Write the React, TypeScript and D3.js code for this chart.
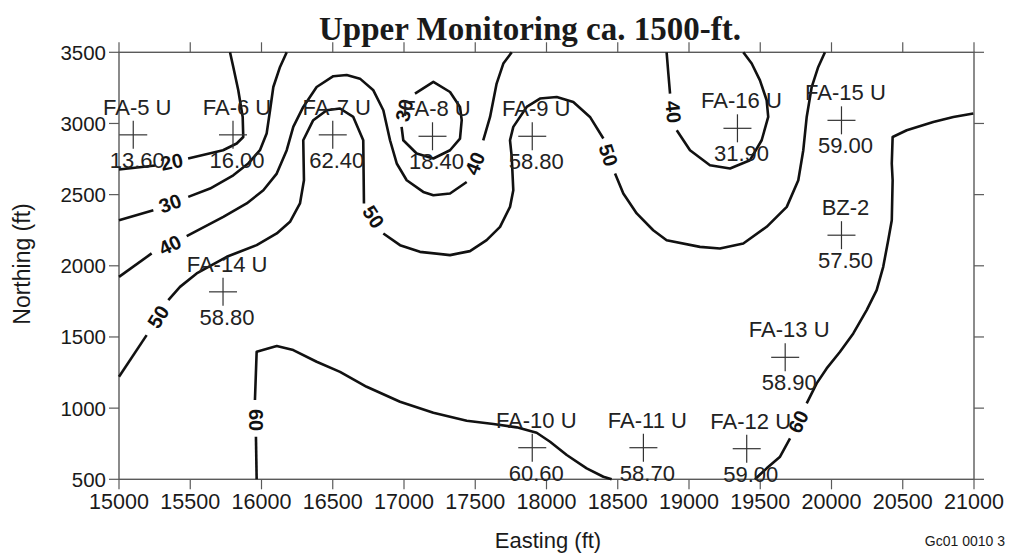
import React from "react";
import * as d3 from "d3";

// well locations (easting, northing) and measured values
const wellNames = ["FA-5 U", "FA-6 U", "FA-7 U", "FA-8 U", "FA-9 U", "FA-16 U", "FA-15 U", "BZ-2", "FA-14 U", "FA-13 U", "FA-12 U", "FA-10 U", "FA-11 U"];
const wellEast = [15100, 15800, 16500, 17200, 17900, 19340, 20070, 20070, 15730, 19675, 19405, 17900, 18680];
const wellNorth = [2920, 2920, 2920, 2910, 2910, 2966, 3022, 2215, 1817, 1357, 715, 722, 722];
const wellValues = ["13.60", "16.00", "62.40", "18.40", "58.80", "31.90", "59.00", "57.50", "58.80", "58.90", "59.00", "60.60", "58.70"];

const xTicks = [15000, 15500, 16000, 16500, 17000, 17500, 18000, 18500, 19000, 19500, 20000, 20500, 21000];
const yTicks = [500, 1000, 1500, 2000, 2500, 3000, 3500];

// contour polylines [easting, northing], split where the labels sit
const contour20: [number, number][][] = [
  [[15000, 2676], [15255, 2705]],
  [[15485, 2754], [15730, 2812], [15826, 2859], [15872, 2905], [15868, 3046], [15837, 3233], [15802, 3397], [15779, 3500]],
];
const contour30: [number, number][][] = [
  [[15000, 2320], [15241, 2391]],
  [[15486, 2484], [15639, 2543], [15802, 2636], [15907, 2719], [15989, 2812], [16036, 2929], [16060, 3093], [16083, 3256], [16130, 3397], [16177, 3500]],
  [[17077, 3210], [17206, 3292], [17323, 3221], [17393, 3116], [17405, 3023], [17393, 2894], [17323, 2812], [17206, 2754], [17089, 2789], [16995, 2882], [16983, 2976]],
];
const contour40: [number, number][][] = [
  [[15000, 1922], [15229, 2087]],
  [[15475, 2208], [15732, 2344], [15896, 2438], [16013, 2531], [16107, 2648], [16177, 2812], [16223, 2976], [16293, 3116], [16387, 3256], [16504, 3332], [16598, 3341], [16691, 3315], [16785, 3233], [16855, 3093], [16902, 2882], [16949, 2719], [17019, 2601], [17135, 2519], [17206, 2496], [17323, 2508], [17440, 2589]],
  [[17556, 2882], [17604, 3046], [17650, 3280], [17697, 3421], [17756, 3500]],
  [[18843, 3500], [18855, 3351], [18867, 3210]],
  [[18914, 2952], [19007, 2812], [19147, 2707], [19288, 2684], [19428, 2742], [19510, 2882], [19556, 3046], [19545, 3163], [19498, 3303], [19440, 3421], [19381, 3500]],
];
const contour50: [number, number][][] = [
  [[15000, 1220], [15194, 1513]],
  [[15346, 1759], [15428, 1852], [15545, 1946], [15756, 2063], [15966, 2145], [16107, 2227], [16200, 2309], [16270, 2438], [16298, 2601], [16293, 2882], [16363, 3023], [16458, 3093], [16551, 3105], [16644, 3046], [16714, 2882], [16719, 2438]],
  [[16855, 2227], [16972, 2145], [17112, 2098], [17323, 2075], [17463, 2103], [17580, 2180], [17674, 2274], [17744, 2414], [17767, 2531], [17756, 2765], [17744, 2882], [17767, 2976], [17861, 3116], [17954, 3175], [18072, 3186], [18188, 3151], [18305, 3046], [18399, 2894]],
  [[18481, 2648], [18539, 2508], [18633, 2368], [18749, 2250], [18843, 2180], [19077, 2133], [19217, 2122], [19381, 2157], [19545, 2274], [19686, 2414], [19767, 2601], [19802, 2812], [19826, 3046], [19861, 3256], [19907, 3397], [19954, 3500]],
];
const contour60: [number, number][][] = [
  [[15966, 500], [15961, 799]],
  [[15954, 1057], [15966, 1396], [16107, 1436], [16223, 1408], [16387, 1326], [16551, 1255], [16738, 1150], [16972, 1045], [17206, 968], [17440, 911], [17627, 888], [17791, 865], [17931, 827], [18025, 764], [18142, 671], [18282, 577], [18399, 518], [18457, 500]],
  [[19463, 500], [19545, 577], [19639, 659], [19709, 788]],
  [[19826, 1034], [19896, 1174], [19966, 1279], [20060, 1396], [20153, 1525], [20247, 1689], [20317, 1829], [20363, 1993], [20398, 2180], [20423, 2320], [20429, 2601], [20423, 2719], [20429, 2905], [20528, 2952], [20714, 3011], [20855, 3046], [20995, 3070]],
];
const contours = [contour20, contour30, contour40, contour50, contour60];

const labelText = ["20", "30", "30", "40", "40", "40", "50", "50", "50", "60", "60"];
const labelEast = [15370, 15358, 17002, 15358, 17498, 18890, 15276, 16785, 18434, 15959, 19767];
const labelNorth = [2730, 2438, 3093, 2145, 2719, 3081, 1642, 2344, 2777, 916, 904];
const labelAngle = [-12, -20, -76, -26, -68, 84, -58, 57, 72, 90, -64];

const W = 1013;
const H = 554;

const App = () => {
  const x = d3.scaleLinear().domain([15000, 21000]).range([119, 974]);
  const y = d3.scaleLinear().domain([500, 3500]).range([479.3, 52.3]);
  const line = d3
    .line<[number, number]>()
    .x((d) => x(d[0]))
    .y((d) => y(d[1]));

  const font = "Liberation Sans, Arial, sans-serif";
  const axisColor = "#5a5a5a";

  return (
    <svg width={W} height={H} style={{ position: "absolute", left: 0, top: 0 }} fontFamily={font}>
      <rect width={W} height={H} fill="#fff" />

      {/* frame and ticks */}
      <rect x={x(15000)} y={y(3500)} width={x(21000) - x(15000)} height={y(500) - y(3500)} fill="none" stroke={axisColor} strokeWidth={1.4} />
      {xTicks.map((t) => (
        <g key={"xt" + t}>
          <line x1={x(t)} x2={x(t)} y1={y(500)} y2={y(500) + 10} stroke={axisColor} strokeWidth={1.2} />
          <line x1={x(t)} x2={x(t)} y1={y(3500)} y2={y(3500) - 10} stroke={axisColor} strokeWidth={1.2} />
          <text x={x(t)} y={509} fontSize={21.5} textAnchor="middle" fill="#1a1a1a">
            {t}
          </text>
        </g>
      ))}
      {yTicks.map((t) => (
        <g key={"yt" + t}>
          <line x1={x(15000) - 10} x2={x(15000)} y1={y(t)} y2={y(t)} stroke={axisColor} strokeWidth={1.2} />
          <line x1={x(21000)} x2={x(21000) + 10} y1={y(t)} y2={y(t)} stroke={axisColor} strokeWidth={1.2} />
          <text x={106} y={y(t) + 7.5} fontSize={20.5} textAnchor="end" fill="#1a1a1a">
            {t}
          </text>
        </g>
      ))}

      {/* contour lines */}
      {contours.map((c, i) =>
        c.map((seg, j) => (
          <path key={"c" + i + "-" + j} d={line(seg) || ""} fill="none" stroke="#111" strokeWidth={2.6} strokeLinejoin="round" />
        ))
      )}
      {labelText.map((t, i) => (
        <text
          key={"cl" + i}
          transform={`translate(${x(labelEast[i])},${y(labelNorth[i])}) rotate(${labelAngle[i]})`}
          fontSize={20}
          fontWeight="bold"
          textAnchor="middle"
          dominantBaseline="central"
          fill="#111"
        >
          {t}
        </text>
      ))}

      {/* wells */}
      {wellNames.map((name, i) => {
        const cx = x(wellEast[i]);
        const cy = y(wellNorth[i]);
        return (
          <g key={name}>
            <line x1={cx - 14} x2={cx + 14} y1={cy} y2={cy} stroke="#333" strokeWidth={1.2} />
            <line x1={cx} x2={cx} y1={cy - 14} y2={cy + 14} stroke="#333" strokeWidth={1.2} />
            <text x={cx + 4} y={cy - 20} fontSize={22} textAnchor="middle" fill="#222">
              {name}
            </text>
            <text x={cx + 4} y={cy + 33} fontSize={22} textAnchor="middle" fill="#222">
              {wellValues[i]}
            </text>
          </g>
        );
      })}

      {/* titles */}
      <text x={530} y={40} fontFamily="Liberation Serif, Times New Roman, serif" fontWeight="bold" fontSize={33} textAnchor="middle" fill="#1a1a1a">
        Upper Monitoring ca. 1500-ft.
      </text>
      <text x={548} y={548} fontSize={22} textAnchor="middle" fill="#1a1a1a">
        Easting (ft)
      </text>
      <text transform="translate(30,264) rotate(-90)" fontSize={23} textAnchor="middle" fill="#1a1a1a">
        Northing (ft)
      </text>
      <text x={1005} y={546} fontSize={14} textAnchor="end" fill="#1a1a1a">
        Gc01 0010 3
      </text>
    </svg>
  );
};

export default App;
